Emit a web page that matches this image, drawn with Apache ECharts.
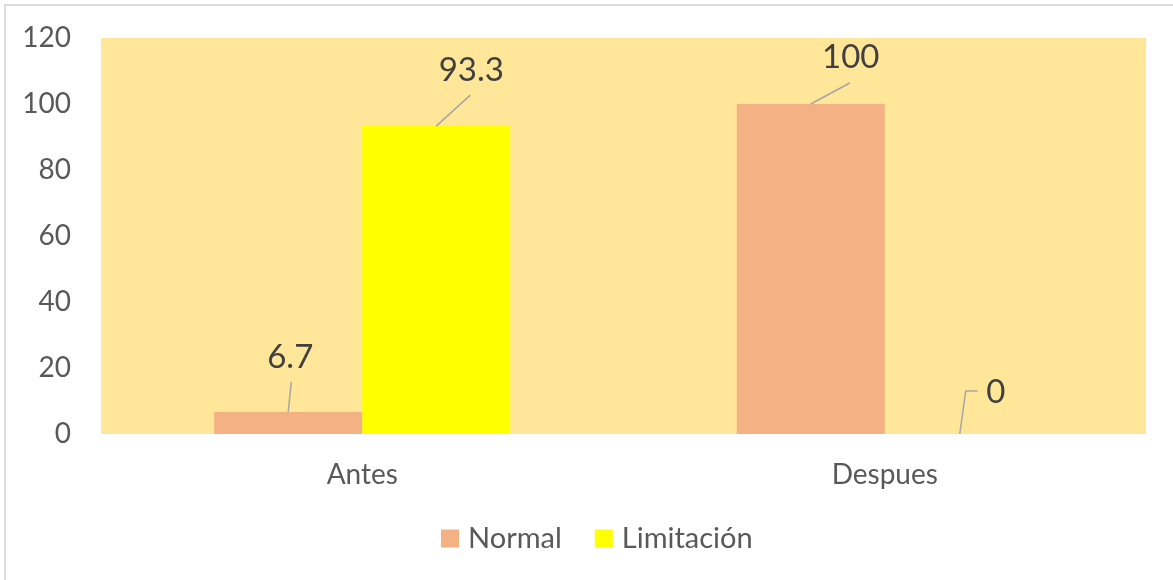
<!DOCTYPE html>
<html>
<head>
<meta charset="utf-8">
<title>Antes / Despues</title>
<script src="https://cdn.jsdelivr.net/npm/echarts@6/dist/echarts.min.js"></script>
<style>
  html, body { margin: 0; padding: 0; background: #fff; overflow: hidden; }
  .frame {
    position: absolute; left: 4px; top: 4px;
    width: 1200px; height: 600px;
    border: 2px solid #dcdcdc;
  }
  #chart { position: absolute; left: 0; top: 0; width: 1173px; height: 580px; }
</style>
</head>
<body>
<div class="frame"></div>
<div id="chart"></div>
<script>
// datos
var categorias = ['Antes', 'Despues'];
var normal = [6.7, 100];
var limitacion = [93.3, 0];
var ticksY = { min: 0, max: 120, interval: 20 };

// etiquetas desplazadas con linea guia (offsets en px desde el centro superior de la barra)
var guiaNormal = [
  { linea: [[0, 0], [3, -30]], texto: [2, -55] },
  { linea: [[0, 0], [39, -21]], texto: [40, -47] }
];
var guiaLimitacion = [
  { linea: [[0, 0], [34, -31]], texto: [35, -56] },
  { linea: [[1, 0], [7, -43], [19, -43]], texto: [37, -42] }
];

var fuente = 'Lato, "Open Sans", sans-serif';
var anchoBarra = 148;

var chart = echarts.init(document.getElementById('chart'));

// datos para la serie de etiquetas: [categoria, valor, serie, indice]
var etiquetas = [];
normal.forEach(function (v, i) { etiquetas.push([i, v, 0, i]); });
limitacion.forEach(function (v, i) { etiquetas.push([i, v, 1, i]); });

function dibujarEtiqueta(params, api) {
  var cat = api.value(0), val = api.value(1), serie = api.value(2), idx = api.value(3);
  var p = api.coord([cat, val]);
  var x0 = p[0] + (serie === 0 ? -anchoBarra / 2 : anchoBarra / 2);
  var y0 = p[1];
  var g = (serie === 0 ? guiaNormal : guiaLimitacion)[idx];
  var puntos = g.linea.map(function (d) { return [x0 + d[0], y0 + d[1]]; });
  return {
    type: 'group',
    children: [
      {
        type: 'polyline',
        shape: { points: puntos },
        style: { stroke: '#a6a6a6', lineWidth: 1.5, fill: null }
      },
      {
        type: 'text',
        x: x0 + g.texto[0],
        y: y0 + g.texto[1],
        style: {
          text: String(val),
          fill: '#404040',
          fontSize: 33,
          fontFamily: fuente,
          align: 'center',
          verticalAlign: 'middle'
        }
      }
    ]
  };
}

chart.setOption({
  animation: false,
  grid: {
    left: 101, right: 27, top: 38, bottom: 146,
    show: true,
    backgroundColor: '#FFE699',
    borderWidth: 0
  },
  legend: {
    top: 519,
    left: 436,
    itemWidth: 18,
    itemHeight: 18,
    itemGap: 33,
    icon: 'rect',
    textStyle: { color: '#595959', fontSize: 29, fontFamily: fuente, padding: [0, 0, 0, 4] },
    data: ['Normal', 'Limitación']
  },
  xAxis: {
    type: 'category',
    data: categorias,
    axisLine: { show: false },
    axisTick: { show: false },
    axisLabel: { color: '#595959', fontSize: 28, fontFamily: fuente, margin: 27 }
  },
  yAxis: {
    type: 'value',
    min: ticksY.min,
    max: ticksY.max,
    interval: ticksY.interval,
    splitLine: { show: false },
    axisLine: { show: false },
    axisTick: { show: false },
    axisLabel: { color: '#595959', fontSize: 28, fontFamily: fuente, margin: 30 }
  },
  series: [
    {
      name: 'Normal',
      type: 'bar',
      data: normal,
      barWidth: anchoBarra,
      barGap: '0%',
      itemStyle: { color: '#F4B183' }
    },
    {
      name: 'Limitación',
      type: 'bar',
      data: limitacion,
      barWidth: anchoBarra,
      itemStyle: { color: '#FFFF00' }
    },
    {
      type: 'custom',
      renderItem: dibujarEtiqueta,
      data: etiquetas,
      encode: { x: 0, y: 1 },
      z: 10,
      silent: true
    }
  ]
});
</script>
</body>
</html>
